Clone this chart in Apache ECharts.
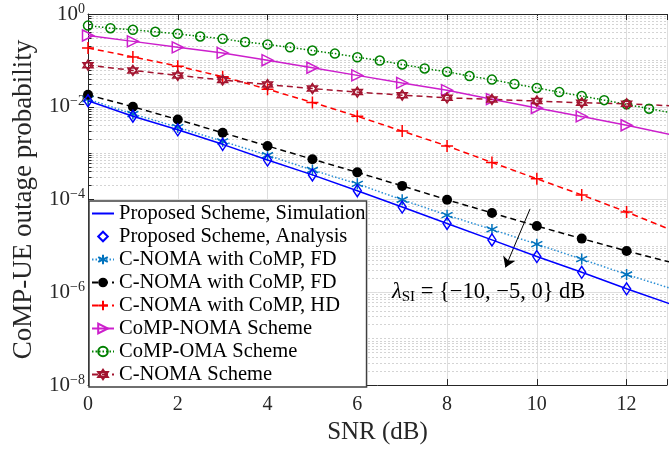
<!DOCTYPE html>
<html>
<head>
<meta charset="utf-8">
<script src="https://cdn.jsdelivr.net/npm/echarts@6/dist/echarts.min.js"></script>
<style>
html, body { margin: 0; padding: 0; background: #fff; }
#main { width: 670px; height: 450px; }
</style>
</head>
<body>
<div id="main"></div>
<script>
// SNR (dB) points
var snr = [0, 1, 2, 3, 4, 5, 6, 7, 8, 9, 10, 11, 12, 13];
var snrHalf = [0, 0.5, 1, 1.5, 2, 2.5, 3, 3.5, 4, 4.5, 5, 5.5, 6, 6.5, 7, 7.5, 8, 8.5, 9, 9.5, 10, 10.5, 11, 11.5, 12, 12.5, 13];

// outage probability
var proposed = [0.0135, 0.00625, 0.00319, 0.00155, 7.1e-4, 3.4e-4, 1.55e-4, 6.9e-5, 3.05e-5, 1.35e-5, 5.9e-6, 2.7e-6, 1.19e-6, 5.5e-7];
var cnomaFdA = [0.0146, 0.0070, 0.00363, 0.0018, 9.0e-4, 4.33e-4, 2.18e-4, 9.9e-5, 4.6e-5, 2.27e-5, 1.09e-5, 5.2e-6, 2.42e-6, 1.2e-6];
var cnomaFdB = [0.0181, 0.0100, 0.0053, 0.00275, 0.00143, 7.4e-4, 3.86e-4, 1.97e-4, 9.9e-5, 5.15e-5, 2.68e-5, 1.44e-5, 7.8e-6, 4.4e-6];
var cnomaHd = [0.185, 0.119, 0.0752, 0.0446, 0.0239, 0.0124, 0.00625, 0.00299, 0.00143, 6.3e-4, 2.8e-4, 1.26e-4, 5.4e-5, 2.2e-5];
var compNoma = [0.344, 0.257, 0.191, 0.145, 0.101, 0.0693, 0.0475, 0.0327, 0.0228, 0.0146, 0.0094, 0.0062, 0.0040, 0.0025];
var compOma = [0.562, 0.495, 0.456, 0.413, 0.374, 0.328, 0.293, 0.249, 0.221, 0.191, 0.163, 0.140, 0.117, 0.0993, 0.0817, 0.0671, 0.057, 0.046, 0.0385, 0.031, 0.0255, 0.0207, 0.017, 0.0139, 0.0113, 0.0091, 0.0074];
var cnoma = [0.0789, 0.0608, 0.0475, 0.0378, 0.0301, 0.0247, 0.0207, 0.0178, 0.0156, 0.0144, 0.0133, 0.0122, 0.0116, 0.0105];

var xTicks = [0, 2, 4, 6, 8, 10, 12];
var arrowFrom = [9.85, 6.3e-5];
var arrowTo = [9.3, 3.45e-6];

function pairs(xs, ys) {
    var out = [];
    for (var i = 0; i < xs.length; i++) out.push([xs[i], ys[i]]);
    return out;
}

// dotted minor grid + small inside minor ticks of the log axis
var minorLines = [];
var minorTicks = [];
for (var e = -8; e < 0; e++) {
    for (var k = 1; k <= 9; k++) {
        var v = k * Math.pow(10, e);
        if (k === 1 && e % 2 === 0) continue;
        minorLines.push({ yAxis: v });
        minorTicks.push([{ coord: [0, v] }, { coord: [0.08, v] }]);
    }
}

var serif = 'Liberation Serif';
var txt = '#262626';

var myChart = echarts.init(document.getElementById('main'));

var option = {
    animation: false,
    grid: { left: 88, right: 0, top: 14, bottom: 61 },
    xAxis: [{
        type: 'value', min: 0, max: 12.9, interval: 2,
        name: 'SNR (dB)', nameLocation: 'middle', nameGap: 34,
        nameTextStyle: { fontFamily: serif, fontSize: 25, color: txt },
        axisLine: { lineStyle: { color: txt, width: 1 } },
        axisTick: { inside: true, length: 6, lineStyle: { color: txt } },
        axisLabel: { fontFamily: serif, fontSize: 20, color: txt, margin: 10,
            formatter: function(v) { return xTicks.indexOf(v) >= 0 ? v : ''; } },
        splitLine: { show: true, lineStyle: { color: '#dedede', width: 1 } }
    }, {
        type: 'value', min: 0, max: 12.9, interval: 2, position: 'top',
        axisLine: { show: true, lineStyle: { color: txt, width: 1 } },
        axisTick: { inside: true, length: 6, lineStyle: { color: txt } },
        axisLabel: { show: false },
        splitLine: { show: false }
    }],
    yAxis: [{
        type: 'log', logBase: 10, min: 1e-8, max: 1, interval: 2,
        name: 'CoMP-UE outage probability', nameLocation: 'middle', nameGap: 51,
        nameTextStyle: { fontFamily: serif, fontSize: 27, color: txt },
        axisLine: { show: true, lineStyle: { color: txt, width: 1 } },
        axisTick: { show: true, inside: true, length: 6, lineStyle: { color: txt } },
        axisLabel: {
            fontFamily: serif, fontSize: 21, color: txt, margin: 3,
            formatter: function(v) {
                var p = Math.round(Math.log(v) / Math.LN10);
                return '10{sup|' + (p < 0 ? '\u2212' + (-p) : p) + '}';
            },
            rich: { sup: { fontFamily: serif, fontSize: 14, color: txt, verticalAlign: 'top', padding: [0, 0, 10, 0] } }
        },
        splitLine: { show: true, lineStyle: { color: '#dedede', width: 1 } }
    }],
    legend: {
        orient: 'vertical', left: 89, top: 201, z: 20,
        backgroundColor: '#fff', borderColor: '#404040', borderWidth: 1.5,
        padding: [2, 1, 2, 2], itemGap: 2, itemWidth: 22, itemHeight: 12,
        textStyle: { fontFamily: serif, fontSize: 20.5, color: '#000', lineHeight: 21 },
        data: ['Proposed Scheme, Simulation', 'Proposed Scheme, Analysis', 'C-NOMA with CoMP, FD',
            'C-NOMA with CoMP, FD ', 'C-NOMA with CoMP, HD', 'CoMP-NOMA Scheme', 'CoMP-OMA Scheme', 'C-NOMA Scheme']
    },
    graphic: [{
        type: 'text', left: 392, top: 281, z: 100,
        style: {
            text: '{a|\u03bb}{s|SI}' + ' = {\u221210, \u22125, 0} dB',
            fontFamily: serif, fontSize: 22.5, fill: '#000',
            rich: {
                a: { fontFamily: serif, fontSize: 22.5, fontStyle: 'italic', fill: '#000' },
                s: { fontFamily: serif, fontSize: 15, fill: '#000', padding: [10, 0, 0, 0] }
            }
        }
    }],
    series: [{
        name: 'minor', type: 'line', data: [], silent: true, z: 1,
        markLine: { silent: true, z: 1, symbol: 'none', precision: 20, label: { show: false },
            lineStyle: { color: '#d4d4d4', type: [2, 2], width: 1 }, data: minorLines }
    }, {
        name: 'minorTicks', type: 'line', data: [], silent: true, z: 1,
        markLine: { silent: true, z: 1, symbol: 'none', label: { show: false },
            lineStyle: { color: txt, type: 'solid', width: 1 }, data: minorTicks }
    }, {
        name: 'Proposed Scheme, Simulation', type: 'line', data: pairs(snr, proposed),
        showSymbol: false, symbol: 'none', z: 5,
        lineStyle: { color: '#0000ff', width: 1.5 },
        itemStyle: { color: 'rgba(0,0,0,0)', borderWidth: 0 },
        markLine: {
            silent: true, symbol: ['none', 'arrow'], symbolSize: 10, label: { show: false },
            itemStyle: { color: '#000' },
            lineStyle: { color: '#000', type: 'solid', width: 1 },
            data: [[{ coord: arrowFrom }, { coord: arrowTo }]]
        }
    }, {
        name: 'Proposed Scheme, Analysis', type: 'line', data: pairs(snr, proposed),
        symbol: 'diamond', symbolSize: [8, 12], z: 6,
        lineStyle: { opacity: 0, width: 0 },
        itemStyle: { color: 'rgba(255,255,255,0)', borderColor: '#0000ff', borderWidth: 1.5 }
    }, {
        name: 'C-NOMA with CoMP, FD', type: 'line', data: pairs(snr, cnomaFdA),
        symbol: 'path://M5,0L5,10M0.67,2.5L9.33,7.5M0.67,7.5L9.33,2.5', symbolSize: 11, z: 4,
        lineStyle: { color: '#2a8fd6', width: 1.5, type: [1.5, 2] },
        itemStyle: { color: '#0072BD', borderColor: '#0072BD', borderWidth: 1.5 }
    }, {
        name: 'C-NOMA with CoMP, FD ', type: 'line', data: pairs(snr, cnomaFdB),
        symbol: 'circle', symbolSize: 10, z: 4,
        lineStyle: { color: '#000', width: 1.5, type: [6, 4] },
        itemStyle: { color: '#000' }
    }, {
        name: 'C-NOMA with CoMP, HD', type: 'line', data: pairs(snr, cnomaHd),
        symbol: 'path://M0,5L10,5M5,0L5,10', symbolSize: 12, z: 4,
        lineStyle: { color: '#ff0000', width: 1.5, type: [6, 4] },
        itemStyle: { color: '#ff0000', borderColor: '#ff0000', borderWidth: 1.5 }
    }, {
        name: 'CoMP-NOMA Scheme', type: 'line', data: pairs(snr, compNoma),
        symbol: 'triangle', symbolRotate: -90, symbolSize: 11, z: 4,
        lineStyle: { color: '#cc1fcc', width: 1.5 },
        itemStyle: { color: 'rgba(255,255,255,0)', borderColor: '#cc1fcc', borderWidth: 1.5 }
    }, {
        name: 'CoMP-OMA Scheme', type: 'line', data: pairs(snrHalf, compOma),
        symbol: 'circle', symbolSize: 9, z: 4,
        lineStyle: { color: '#008000', width: 1.5, type: [1.5, 2] },
        itemStyle: { color: 'rgba(255,255,255,0)', borderColor: '#008000', borderWidth: 1.5 }
    }, {
        name: 'C-NOMA Scheme', type: 'line', data: pairs(snr, cnoma),
        symbol: 'path://M5,0L9.33,7.5L0.67,7.5Z M5,10L0.67,2.5L9.33,2.5Z', symbolSize: 10, z: 4,
        lineStyle: { color: '#a2142f', width: 1.5, type: [6, 4] },
        itemStyle: { color: 'rgba(255,255,255,0)', borderColor: '#a2142f', borderWidth: 1.5 }
    }]
};

myChart.setOption(option);
</script>
</body>
</html>
